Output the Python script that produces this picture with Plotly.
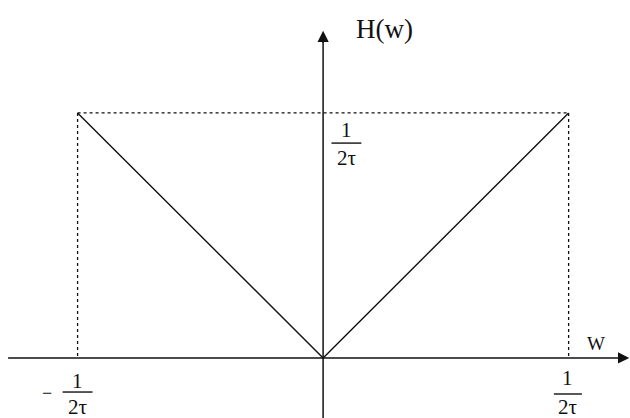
import plotly.graph_objects as go

# Frequency response H(w): triangular magnitude, zero at w = 0,
# reaching 1/(2τ) at the band edges w = ±1/(2τ) (normalised units).
W_POINTS = [-1.0, 0.0, 1.0]
H_VALUES = [1.0, 0.0, 1.0]

EDGE_W = [-1.0, 1.0]          # band edges, ±1/(2τ)
PEAK_H = 1.0                  # level 1/(2τ)
FRACTION_NUM = "1"
FRACTION_DEN = "2τ"

SERIF = "Liberation Serif, Times New Roman, serif"
INK = "#111111"

X_RANGE = [-1.316, 1.250]
Y_RANGE = [-0.245, 1.461]

fig = go.Figure()

# triangular response
fig.add_trace(go.Scatter(
    x=W_POINTS, y=H_VALUES, mode="lines",
    line=dict(color=INK, width=1.4), hoverinfo="skip", showlegend=False,
))

# dotted guide box: top edge and the two drops to the w axis
fig.add_trace(go.Scatter(
    x=[EDGE_W[0], EDGE_W[1]], y=[PEAK_H, PEAK_H], mode="lines",
    line=dict(color=INK, width=1.3, dash="dot"), hoverinfo="skip", showlegend=False,
))
for w in EDGE_W:
    fig.add_trace(go.Scatter(
        x=[w, w], y=[PEAK_H, 0], mode="lines",
        line=dict(color=INK, width=1.3, dash="dot"), hoverinfo="skip", showlegend=False,
    ))

# axes with arrowheads
fig.add_shape(type="line", x0=-1.283, y0=0, x1=1.22, y1=0,
              line=dict(color=INK, width=1.5))
fig.add_annotation(x=1.247, y=0, ax=1.20, ay=0, xref="x", yref="y",
                   axref="x", ayref="y", showarrow=True, arrowhead=2,
                   arrowsize=1.5, arrowwidth=1.5, arrowcolor=INK, text="")
fig.add_shape(type="line", x0=0, y0=Y_RANGE[0], x1=0, y1=1.30,
              line=dict(color=INK, width=1.5))
fig.add_annotation(x=0, y=1.335, ax=0, ay=1.28, xref="x", yref="y",
                   axref="x", ayref="y", showarrow=True, arrowhead=2,
                   arrowsize=1.5, arrowwidth=1.5, arrowcolor=INK, text="")

# axis titles
fig.add_annotation(x=0.250, y=1.343, xref="x", yref="y", text="H(w)",
                   showarrow=False, font=dict(family=SERIF, size=27, color=INK))
fig.add_annotation(x=1.11, y=0.06, xref="x", yref="y", text="W",
                   showarrow=False, font=dict(family=SERIF, size=19, color=INK))


def fraction(xc, y_num, y_bar, y_den, half_width):
    fig.add_annotation(x=xc, y=y_num, xref="x", yref="y", text=FRACTION_NUM,
                       showarrow=False, font=dict(family=SERIF, size=21, color=INK))
    fig.add_shape(type="line", x0=xc - half_width, x1=xc + half_width,
                  y0=y_bar, y1=y_bar, line=dict(color=INK, width=1.4))
    fig.add_annotation(x=xc, y=y_den, xref="x", yref="y", text=FRACTION_DEN,
                       showarrow=False, font=dict(family=SERIF, size=21, color=INK))


# 1/(2τ) level label next to the vertical axis
fraction(0.095, PEAK_H - 0.068, PEAK_H - 0.123, PEAK_H - 0.182, 0.061)
# band-edge labels under the w axis
fraction(EDGE_W[0] + 0.0, -0.094, -0.139, -0.200, 0.061)
fraction(EDGE_W[1] - 0.003, -0.080, -0.147, -0.200, 0.057)
fig.add_annotation(x=-1.125, y=-0.143, xref="x", yref="y", text="−",
                   showarrow=False, font=dict(family=SERIF, size=18, color=INK))

fig.update_layout(
    width=630, height=418,
    margin=dict(l=0, r=0, t=0, b=0),
    paper_bgcolor="white", plot_bgcolor="white",
    xaxis=dict(range=X_RANGE, visible=False, fixedrange=True),
    yaxis=dict(range=Y_RANGE, visible=False, fixedrange=True),
)

fig.write_html("out.html")
